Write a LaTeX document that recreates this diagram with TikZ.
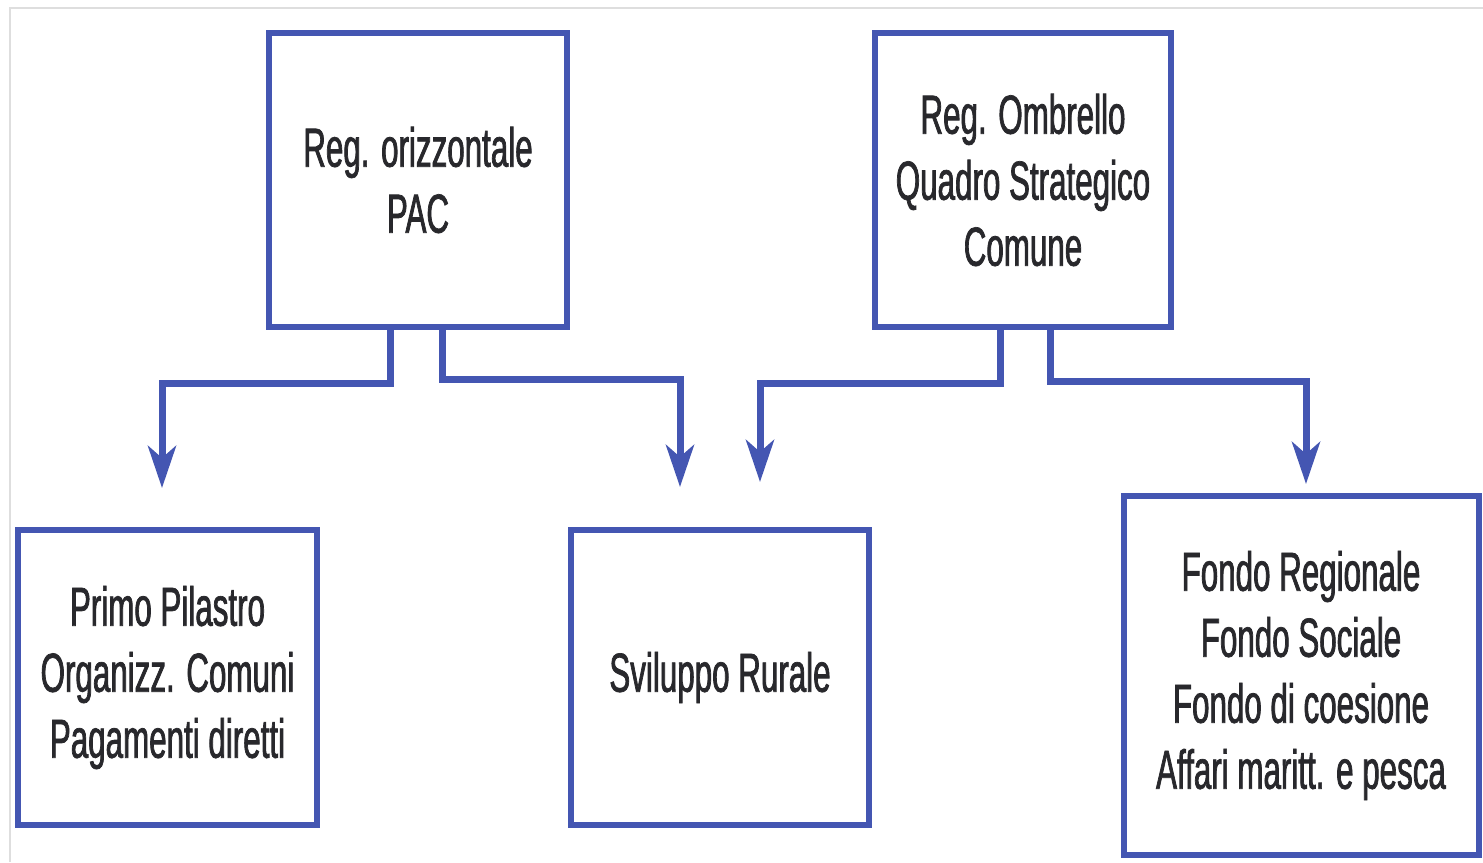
\documentclass[tikz,border=0pt]{standalone}
\usepackage{fontspec}
\setmainfont[FakeStretch=0.57,FakeBold=1.3]{Liberation Sans}
\usetikzlibrary{arrows.meta}
\definecolor{boxblue}{RGB}{68,86,178}
\definecolor{txtgray}{RGB}{40,40,44}
\definecolor{framegray}{RGB}{222,222,222}
\tikzset{
  box/.style={draw=boxblue, line width=6pt, fill=white, inner sep=0pt,
    align=center, text=txtgray, font=\fontsize{55}{66}\selectfont},
  conn/.style={draw=boxblue, line width=7pt,
    -{Stealth[length=42pt,width=28pt,inset=12pt]}}
}
\begin{document}
\begin{tikzpicture}[x=1pt,y=-1pt]
\useasboundingbox (0,0) rectangle (1483,862);
\fill[white] (0,0) rectangle (1483,862);
\draw[framegray, line width=2.5pt] (10,862) -- (10,8) -- (1483,8);

\node[box, minimum width=298pt, minimum height=294pt] (A) at (418,180)
  {Reg. orizzontale\\PAC};
\node[box, minimum width=296pt, minimum height=294pt] (B) at (1023,180)
  {Reg. Ombrello\\Quadro Strategico\\Comune};
\node[box, minimum width=299pt, minimum height=295pt] (C) at (167.5,677.5)
  {Primo Pilastro\\Organizz. Comuni\\Pagamenti diretti};
\node[box, minimum width=298pt, minimum height=295pt] (D) at (720,677.5)
  {Sviluppo Rurale};
\node[box, minimum width=355pt, minimum height=359pt] (E) at (1301,675.5)
  {Fondo Regionale\\Fondo Sociale\\Fondo di coesione\\Affari maritt. e pesca};

\coordinate (tC) at (162,488);
\coordinate (tD1) at (680,487);
\coordinate (tD2) at (760,482);
\coordinate (tE) at (1306,484);

\draw[conn] ([xshift=-28pt]A.south) -- ++(0,53) -| (tC);
\draw[conn] ([xshift=24pt]A.south) -- ++(0,49) -| (tD1);
\draw[conn] ([xshift=-23pt]B.south) -- ++(0,53) -| (tD2);
\draw[conn] ([xshift=27pt]B.south) -- ++(0,51) -| (tE);
\end{tikzpicture}
\end{document}
